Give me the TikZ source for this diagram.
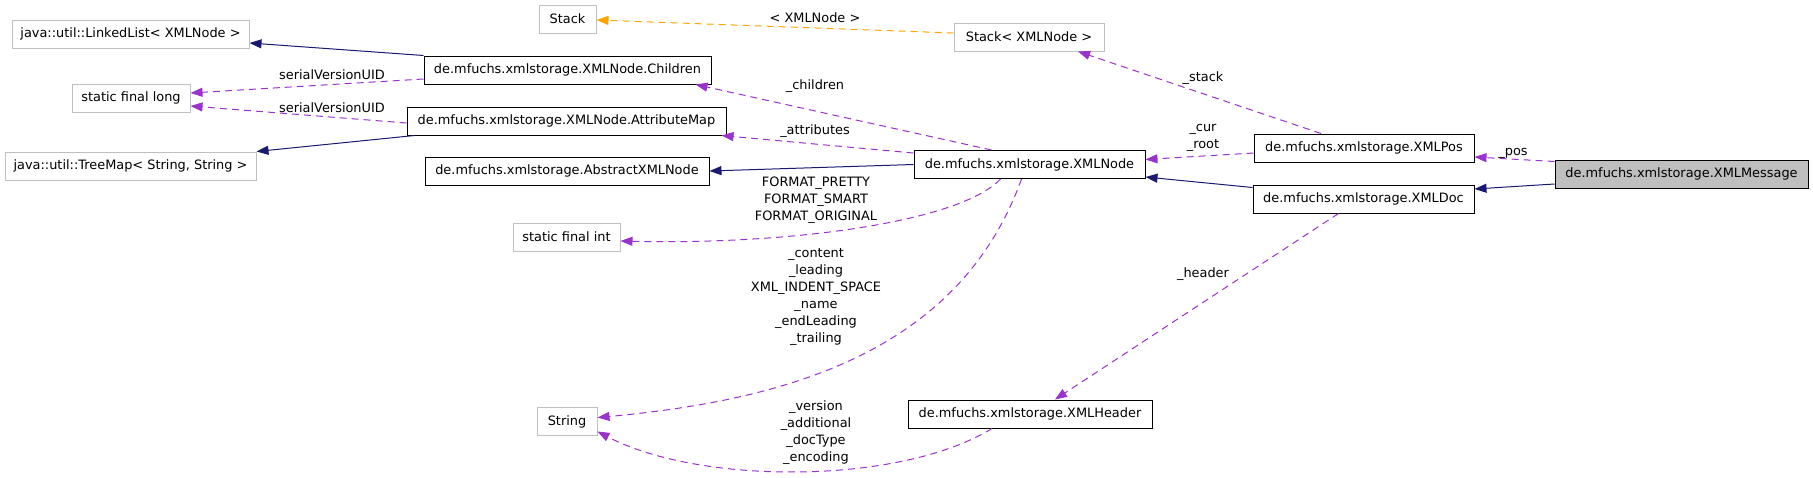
\documentclass[tikz,border=0pt]{standalone}
\usepackage{fontspec}
\setmainfont{DejaVu Sans}
\usetikzlibrary{calc,arrows.meta}
\definecolor{edgenavy}{HTML}{191970}
\definecolor{edgepurple}{HTML}{9A32CD}
\definecolor{edgeorange}{HTML}{FFA500}
\definecolor{boxgray}{HTML}{BFBFBF}
\tikzset{
	classbox/.style={draw=black, line width=1pt, inner sep=0pt, minimum height=28pt},
	extbox/.style={draw=boxgray, line width=1pt, inner sep=0pt, minimum height=28pt},
	inherit/.style={line width=1pt, color=edgenavy, -{Triangle[length=12pt,width=9pt]}},
	usage/.style={line width=1pt, color=edgepurple, dash pattern=on 7pt off 5pt, -{Triangle[length=12pt,width=9pt]}},
	templ/.style={line width=1pt, color=edgeorange, dash pattern=on 7pt off 5pt, -{Triangle[length=12pt,width=9pt]}},
	elabel/.style={inner sep=0pt, align=center}
}

\begin{document}
\begin{tikzpicture}[x=1pt, y=-1pt, every node/.style={font=\fontsize{12.9}{17}\selectfont}]
			%%%%% START %%%%%
			\useasboundingbox (0,0) rectangle (1813,477);
			
			\node[extbox, minimum width=57pt] (stack) at (567.5,19) {Stack};
			\node[extbox, minimum width=150pt] (stackx) at (1029,37) {Stack< XMLNode >};
			\node[extbox, minimum width=237pt] (linkedlist) at (130.5,34) {java::util::LinkedList< XMLNode >};
			\node[extbox, minimum width=118pt] (sflong) at (131,98) {static final long};
			\node[extbox, minimum width=251pt] (treemap) at (130.5,166) {java::util::TreeMap< String, String >};
			\node[extbox, minimum width=107pt] (sfint) at (566.5,237) {static final int};
			\node[extbox, minimum width=60pt] (string) at (567,421.5) {String};
			
			\node[classbox, minimum width=287pt] (children) at (567.5,70) {de.mfuchs.xmlstorage.XMLNode.Children};
			\node[classbox, minimum width=319pt] (attrmap) at (566.5,121) {de.mfuchs.xmlstorage.XMLNode.AttributeMap};
			\node[classbox, minimum width=284pt] (abstract) at (567,171) {de.mfuchs.xmlstorage.AbstractXMLNode};
			\node[classbox, minimum width=231pt] (xmlnode) at (1029.5,164.5) {de.mfuchs.xmlstorage.XMLNode};
			\node[classbox, minimum width=244pt] (header) at (1030,414) {de.mfuchs.xmlstorage.XMLHeader};
			\node[classbox, minimum width=220pt] (xmlpos) at (1364,148) {de.mfuchs.xmlstorage.XMLPos};
			\node[classbox, minimum width=221pt] (xmldoc) at (1363.5,199) {de.mfuchs.xmlstorage.XMLDoc};
			\node[classbox, minimum width=253pt, fill=boxgray] (message) at (1681.5,174) {de.mfuchs.xmlstorage.XMLMessage};
			
			\draw[templ] ($(stackx.west)+(0,-4)$) -- ($(stack.east)+(0,1)$);
			\node[elabel] (lbltempl) at (815,18) {< XMLNode >};
			
			\draw[inherit] (children.north west) -- ($(linkedlist.east)+(0,9)$);
			\draw[usage] ($(children.west)+(0,9)$) -- ($(sflong.east)+(0,-5)$);
			\node[elabel] (lblserialA) at (332,75) {serialVersionUID};
			\draw[usage] ($(attrmap.west)+(0,2)$) -- ($(sflong.east)+(0,8)$);
			\node[elabel] (lblserialB) at (332,108) {serialVersionUID};
			\draw[inherit] ($(attrmap.south west)+(8,0)$) -- (treemap.north east);
			
			\draw[usage] ($(xmlnode.north)+(-38,0)$) -- ($(children.south east)+(-16,0)$);
			\node[elabel] (lblchildren) at (815,86) {\_children};
			\draw[usage] ($(xmlnode.north west)+(0,3)$) -- ($(attrmap.south east)+(-5,0)$);
			\node[elabel] (lblattr) at (815,131) {\_attributes};
			\draw[inherit] (xmlnode.west) -- (abstract.east);
			
			\draw[usage] ($(xmlnode.south)+(-29,0)$) .. controls (960,222) and (790,245) .. ($(sfint.east)+(0,4)$);
			\node[elabel] (lblformat) at (816,200) {FORMAT\_PRETTY\\FORMAT\_SMART\\FORMAT\_ORIGINAL};
			\draw[usage] ($(xmlnode.south)+(-8,0)$) .. controls (960,350) and (790,400) .. ($(string.east)+(0,-4)$);
			\node[elabel] (lblfields) at (816,297) {\_content\\\_leading\\XML\_INDENT\_SPACE\\\_name\\\_endLeading\\\_trailing};
			\draw[usage] ($(header.south)+(-38,0)$) .. controls (900,485) and (700,485) .. ($(string.east)+(0,10)$);
			\node[elabel] (lblheader) at (816,432.5) {\_version\\\_additional\\\_docType\\\_encoding};
			
			\draw[usage] ($(xmlpos.north)+(-43,0)$) -- ($(stackx.south)+(49,0)$);
			\node[elabel] (lblstack) at (1203,78) {\_stack};
			\draw[usage] ($(xmlpos.west)+(0,5)$) -- ($(xmlnode.east)+(0,-5)$);
			\node[elabel] (lblcur) at (1203,138) {\_cur\\\_root};
			\draw[inherit] ($(xmldoc.north west)+(0,3)$) -- ($(xmlnode.south east)+(0,-2)$);
			\draw[usage] ($(xmldoc.south)+(-25,0)$) -- ($(header.north)+(25,0)$);
			\node[elabel] (lblhdr) at (1203,274) {\_header};
			
			\draw[usage] ($(message.north west)+(0,2)$) -- ($(xmlpos.east)+(0,9)$);
			\node[elabel] (lblpos) at (1513,153) {\_pos};
			\draw[inherit] ($(message.west)+(0,10)$) -- ($(xmldoc.east)+(0,-10)$);
			
			%%%%% END %%%%%
\end{tikzpicture}
\end{document}
